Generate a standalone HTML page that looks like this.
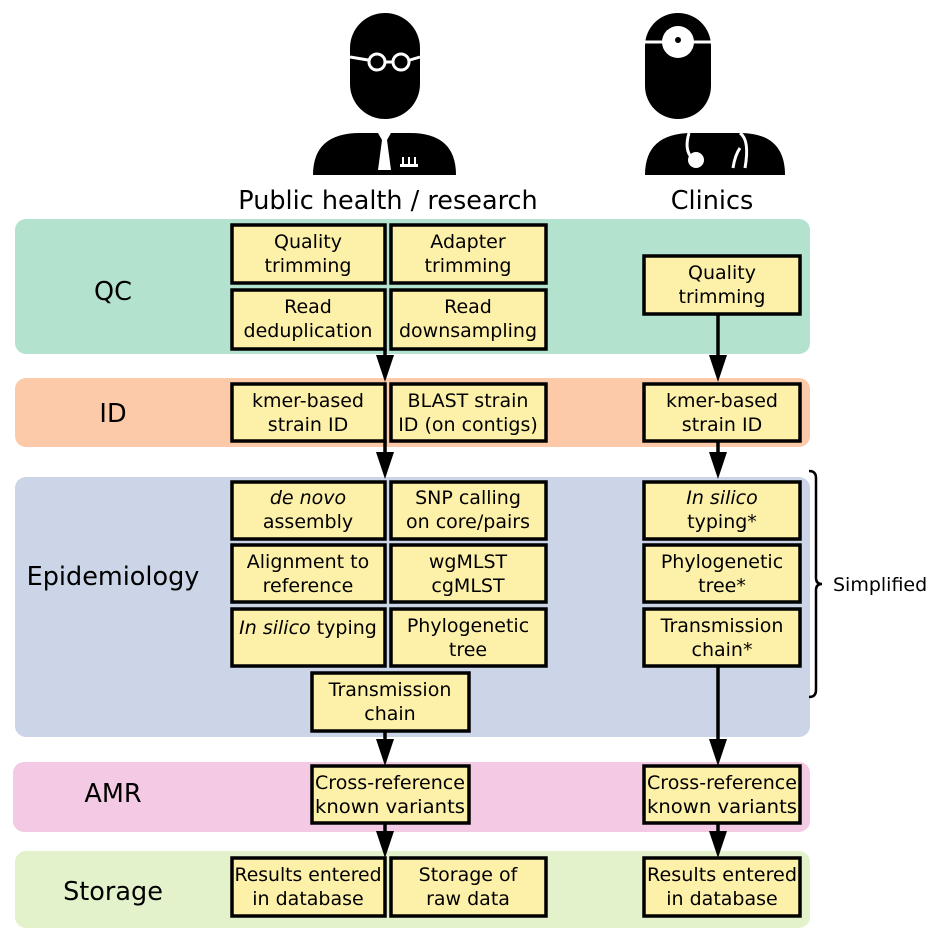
<!DOCTYPE html>
<html><head><meta charset="utf-8"><style>
html,body{margin:0;padding:0;background:#fff;}
svg{display:block;}
text{font-family:"DejaVu Sans","Liberation Sans",sans-serif;fill:#000;}
.b{fill:#fdf0a8;stroke:#000;stroke-width:3.5;}
.t{font-size:19px;text-anchor:middle;}
.l{font-size:25.5px;text-anchor:middle;}
</style></head><body>
<svg width="939" height="941" viewBox="0 0 939 941" xmlns="http://www.w3.org/2000/svg">
<!-- icons -->
<g fill="#000">
<rect x="350" y="13" width="70" height="106" rx="35"/>
<path d="M313,175 Q313,133 360,133 L410,133 Q456,133 456,175 Z"/>
<rect x="645" y="13" width="66" height="106" rx="33"/>
<path d="M645,175 Q645,133 692,133 L740,133 Q785,133 785,175 Z"/>
</g>
<g stroke="#fff" stroke-width="3" fill="none">
<path d="M350,57 L368,60 M386,62 L392,62 M410,60 L420,57"/>
<circle cx="377" cy="62" r="8"/><circle cx="401" cy="62" r="8"/>
<path d="M645,42 L711,42"/>
<path d="M689,133 Q684,150 692,158"/>
<path d="M740,133 Q750,140 745,168 M740,148 Q735,155 733,168"/>
</g>
<g fill="#fff">
<path d="M378,133 L391,133 L387,140 L391,170 L378,170 L382,140 Z"/>
<rect x="400" y="164" width="18" height="3"/>
<rect x="402" y="157" width="2" height="8"/><rect x="408" y="157" width="2" height="8"/><rect x="414" y="157" width="2" height="8"/>
<circle cx="678" cy="42" r="16"/>
<circle cx="696" cy="160" r="8"/>
</g>
<circle cx="678" cy="40" r="3" fill="#000"/>
<text class="l" x="388" y="209">Public health / research</text>
<text class="l" x="712" y="209">Clinics</text>
<!-- bands -->
<rect x="15" y="219" width="795" height="135" rx="11" fill="#b3e3cf"/>
<rect x="15" y="378" width="795" height="69" rx="11" fill="#fccaa8"/>
<rect x="15" y="477" width="795" height="260" rx="11" fill="#cbd5e7"/>
<rect x="13" y="762" width="797" height="70" rx="11" fill="#f3c9e3"/>
<rect x="15" y="851" width="795" height="77" rx="11" fill="#e3f2cb"/>
<text class="l" x="113" y="300">QC</text>
<text class="l" x="113" y="422">ID</text>
<text class="l" x="113" y="585">Epidemiology</text>
<text class="l" x="113" y="802">AMR</text>
<text class="l" x="113" y="900">Storage</text>
<!-- arrows -->
<g stroke="#000" stroke-width="3.5">
<line x1="385" y1="349" x2="385" y2="360"/>
<line x1="385" y1="441" x2="385" y2="455"/>
<line x1="385" y1="731" x2="385" y2="745"/>
<line x1="385" y1="823" x2="385" y2="836"/>
<line x1="718" y1="314" x2="718" y2="360"/>
<line x1="718" y1="441" x2="718" y2="455"/>
<line x1="718" y1="666" x2="718" y2="745"/>
<line x1="718" y1="823" x2="718" y2="836"/>
</g>
<g fill="#000">
<path d="M376,355 L394,355 L385,382 Z"/>
<path d="M376,452 L394,452 L385,479 Z"/>
<path d="M376,739 L394,739 L385,766 Z"/>
<path d="M376,831 L394,831 L385,858 Z"/>
<path d="M709,355 L727,355 L718,382 Z"/>
<path d="M709,452 L727,452 L718,479 Z"/>
<path d="M709,739 L727,739 L718,766 Z"/>
<path d="M709,831 L727,831 L718,858 Z"/>
</g>
<!-- boxes -->
<g>
<rect class="b" x="232" y="225" width="153" height="58"/><text class="t" x="308" y="248">Quality</text><text class="t" x="308" y="272">trimming</text>
<rect class="b" x="391" y="225" width="155" height="58"/><text class="t" x="468" y="248">Adapter</text><text class="t" x="468" y="272">trimming</text>
<rect class="b" x="232" y="290" width="153" height="59"/><text class="t" x="308" y="313">Read</text><text class="t" x="308" y="337">deduplication</text>
<rect class="b" x="391" y="290" width="155" height="59"/><text class="t" x="468" y="313">Read</text><text class="t" x="468" y="337">downsampling</text>
<rect class="b" x="644" y="256" width="156" height="58"/><text class="t" x="722" y="279">Quality</text><text class="t" x="722" y="303">trimming</text>

<rect class="b" x="232" y="384" width="153" height="57"/><text class="t" x="308" y="407">kmer-based</text><text class="t" x="308" y="431">strain ID</text>
<rect class="b" x="391" y="384" width="155" height="57"/><text class="t" x="468" y="407">BLAST strain</text><text class="t" x="468" y="431">ID (on contigs)</text>
<rect class="b" x="644" y="384" width="156" height="57"/><text class="t" x="722" y="407">kmer-based</text><text class="t" x="722" y="431">strain ID</text>

<rect class="b" x="232" y="482" width="153" height="57"/><text class="t" x="308" y="504" font-style="italic">de novo</text><text class="t" x="308" y="528">assembly</text>
<rect class="b" x="391" y="482" width="155" height="57"/><text class="t" x="468" y="504">SNP calling</text><text class="t" x="468" y="528">on core/pairs</text>
<rect class="b" x="232" y="545" width="153" height="57"/><text class="t" x="308" y="568">Alignment to</text><text class="t" x="308" y="592">reference</text>
<rect class="b" x="391" y="545" width="155" height="57"/><text class="t" x="468" y="568">wgMLST</text><text class="t" x="468" y="592">cgMLST</text>
<rect class="b" x="232" y="609" width="153" height="57"/><text class="t" x="308" y="634"><tspan font-style="italic">In silico</tspan> typing</text>
<rect class="b" x="391" y="609" width="155" height="57"/><text class="t" x="468" y="632">Phylogenetic</text><text class="t" x="468" y="656">tree</text>
<rect class="b" x="312" y="673" width="157" height="58"/><text class="t" x="390" y="696">Transmission</text><text class="t" x="390" y="720">chain</text>
<rect class="b" x="644" y="482" width="156" height="57"/><text class="t" x="722" y="504" font-style="italic">In silico</text><text class="t" x="722" y="528">typing*</text>
<rect class="b" x="644" y="545" width="156" height="57"/><text class="t" x="722" y="568">Phylogenetic</text><text class="t" x="722" y="592">tree*</text>
<rect class="b" x="644" y="609" width="156" height="57"/><text class="t" x="722" y="632">Transmission</text><text class="t" x="722" y="656">chain*</text>

<rect class="b" x="312" y="766" width="157" height="57"/><text class="t" x="390" y="789" textLength="150" lengthAdjust="spacingAndGlyphs">Cross-reference</text><text class="t" x="390" y="813" textLength="150" lengthAdjust="spacingAndGlyphs">known variants</text>
<rect class="b" x="644" y="766" width="156" height="57"/><text class="t" x="722" y="789" textLength="150" lengthAdjust="spacingAndGlyphs">Cross-reference</text><text class="t" x="722" y="813" textLength="150" lengthAdjust="spacingAndGlyphs">known variants</text>

<rect class="b" x="232" y="858" width="153" height="58"/><text class="t" x="308" y="881" textLength="147" lengthAdjust="spacingAndGlyphs">Results entered</text><text class="t" x="308" y="905">in database</text>
<rect class="b" x="391" y="858" width="155" height="58"/><text class="t" x="468" y="881">Storage of</text><text class="t" x="468" y="905">raw data</text>
<rect class="b" x="644" y="858" width="156" height="58"/><text class="t" x="722" y="881" textLength="150" lengthAdjust="spacingAndGlyphs">Results entered</text><text class="t" x="722" y="905">in database</text>
</g>
<!-- brace -->
<path d="M809,471 Q816,471 816,478 L816,578 Q816,584 822,584 Q816,584 816,590 L816,690 Q816,697 809,697" fill="none" stroke="#000" stroke-width="2.5"/>
<text x="833" y="591" font-size="19">Simplified</text>
</svg>
</body></html>
